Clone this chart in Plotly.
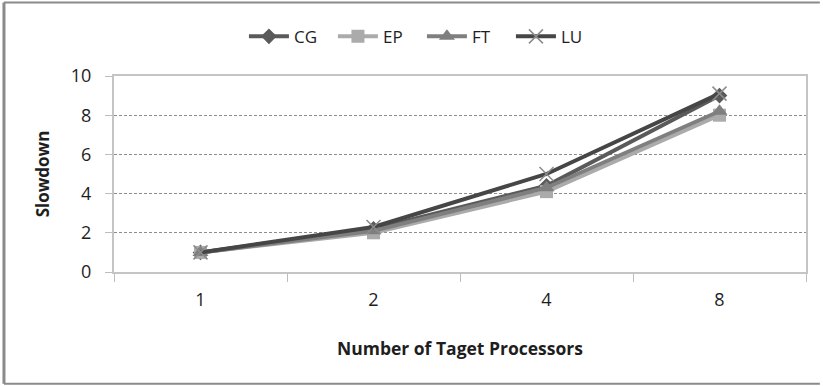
import plotly.graph_objects as go

# Slowdown measured for each benchmark as the number of target processors grows
processors = ["1", "2", "4", "8"]
cg = [1.0, 2.2, 4.4, 9.0]
ep = [1.0, 2.0, 4.1, 8.0]
ft = [1.0, 2.1, 4.3, 8.2]
lu = [1.0, 2.3, 5.0, 9.1]

y_ticks = [0, 2, 4, 6, 8, 10]

FONT = "'Open Sans', sans-serif"
TEXT = "#1e1e1e"

series = [
    ("CG", cg, "#5a5a5a", dict(symbol="diamond", size=12, color="#5a5a5a")),
    ("EP", ep, "#ababab", dict(symbol="square", size=13, color="#ababab")),
    ("FT", ft, "#7f7f7f", dict(symbol="triangle-up", size=14, color="#7f7f7f")),
    ("LU", lu, "#464646", dict(symbol="x-thin", size=14, color="#8c8c8c",
                               line=dict(color="#8c8c8c", width=1.5))),
]

fig = go.Figure()
for name, vals, col, mk in series:
    fig.add_trace(go.Scatter(
        x=processors, y=vals, name=name, mode="lines+markers",
        line=dict(color=col, width=4), marker=mk,
    ))

fig.update_layout(
    width=823, height=386,
    margin=dict(l=114, r=17, t=76, b=114),
    paper_bgcolor="white", plot_bgcolor="white",
    font=dict(family=FONT, size=17, color=TEXT),
    showlegend=True,
    legend=dict(orientation="h", x=0.445, xanchor="center", y=1.2, yanchor="middle",
                font=dict(size=17, color=TEXT), itemwidth=40,
                entrywidth=34, entrywidthmode="pixels", tracegroupgap=0),
    xaxis=dict(
        type="category", range=[-0.5, 3.5],
        showline=True, linecolor="#c4c4c4", linewidth=2, mirror=True,
        ticks="outside", tickson="boundaries", ticklen=8, tickcolor="#bdbdbd",
        showgrid=False, tickfont=dict(size=18, color=TEXT), ticklabelstandoff=10,
        title=dict(text="<b>Number of Taget Processors</b>", font=dict(size=17.5, color=TEXT),
                   standoff=33),
    ),
    yaxis=dict(
        range=[0, 10], tickvals=y_ticks,
        showline=True, linecolor="#c4c4c4", linewidth=2, mirror=True,
        ticks="outside", ticklen=7, tickcolor="#bdbdbd",
        showgrid=True, gridcolor="#8c8c8c", gridwidth=1, griddash="3px,2px",
        zeroline=False, tickfont=dict(size=18, color=TEXT), ticklabelstandoff=10,
        title=dict(text="<b>Slowdown</b>", font=dict(size=17, color=TEXT), standoff=17),
    ),
    shapes=[
        dict(type="line", xref="paper", yref="paper", x0=-0.159, x1=-0.159, y0=-0.57, y1=1.375,
             line=dict(color="#8a8a8a", width=3)),
        dict(type="line", xref="paper", yref="paper", x0=-0.159, x1=1.02, y0=1.375, y1=1.375,
             line=dict(color="#8a8a8a", width=2)),
        dict(type="line", xref="paper", yref="paper", x0=-0.159, x1=1.02, y0=-0.57, y1=-0.57,
             line=dict(color="#8a8a8a", width=2)),
    ],
)

fig.write_html("out.html")
